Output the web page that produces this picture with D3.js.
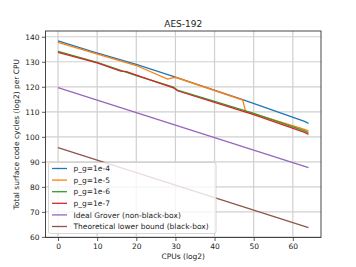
<!DOCTYPE html>
<html>
<head>
<meta charset="utf-8">
<script src="https://cdn.jsdelivr.net/npm/d3@7"></script>
<style>
  body { margin: 0; background: #fff; }
  text { font-family: "DejaVu Sans", sans-serif; fill: #222; }
</style>
</head>
<body>
<svg id="chart" width="356" height="267"></svg>
<script>
// CPUs (log2) and total cycles (log2) per CPU
const x1e4 = [0, 9, 20, 30, 47, 63, 64];
const y1e4 = [138.4, 134.0, 129.0, 123.9, 115.0, 106.2, 105.4];
const x1e5 = [0, 9, 20, 28, 29, 30, 47.2, 47.9, 63, 64];
const y1e5 = [137.8, 133.6, 128.5, 123.1, 123.5, 123.8, 114.7, 110.3, 103.0, 102.4];
const x1e6 = [0, 10, 20, 29.5, 30.5, 40, 50, 63, 64];
const y1e6 = [134.2, 129.8, 124.5, 119.9, 118.7, 114.2, 109.4, 102.4, 101.7];
const x1e7 = [0, 10, 16, 17.5, 25, 29.5, 30.5, 40, 50, 63, 64];
const y1e7 = [133.8, 129.6, 126.3, 126.1, 122.0, 119.6, 118.4, 113.8, 108.9, 101.8, 101.0];
const xGrover = [0, 64];
const yGrover = [119.7, 87.7];
const xLower = [0, 64];
const yLower = [95.7, 63.7];

const labels = ["p_g=1e-4", "p_g=1e-5", "p_g=1e-6", "p_g=1e-7",
  "Ideal Grover (non-black-box)", "Theoretical lower bound (black-box)"];
const colors = ["#1f77b4", "#ff7f0e", "#2ca02c", "#d62728", "#9467bd", "#8c564b"];
const xTicks = [0, 10, 20, 30, 40, 50, 60];
const yTicks = [60, 70, 80, 90, 100, 110, 120, 130, 140];

const series = [
  [x1e4, y1e4], [x1e5, y1e5], [x1e6, y1e6], [x1e7, y1e7],
  [xGrover, yGrover], [xLower, yLower]
].map(([xs, ys], i) => ({ label: labels[i], color: colors[i], pts: xs.map((x, j) => [x, ys[j]]) }));

const plotL = 45.5, plotR = 321, plotT = 31, plotB = 237.5;
const x = d3.scaleLinear().domain([-3.2, 67.2]).range([plotL, plotR]);
const y = d3.scaleLinear().domain([59.75, 142.3]).range([plotB, plotT]);

const svg = d3.select("#chart");

// grid
svg.append("g")
  .selectAll("line")
  .data(xTicks)
  .enter()
  .append("line")
  .attr("x1", (d) => x(d))
  .attr("x2", (d) => x(d))
  .attr("y1", plotT)
  .attr("y2", plotB)
  .attr("stroke", "#d0d0d0")
  .attr("stroke-width", 1.2);

svg.append("g")
  .selectAll("line")
  .data(yTicks)
  .enter()
  .append("line")
  .attr("x1", plotL)
  .attr("x2", plotR)
  .attr("y1", (d) => y(d))
  .attr("y2", (d) => y(d))
  .attr("stroke", "#d0d0d0")
  .attr("stroke-width", 1.2);

// lines
const line = d3.line().x((d) => x(d[0])).y((d) => y(d[1]));
svg.append("g")
  .selectAll("path")
  .data(series)
  .enter()
  .append("path")
  .attr("d", (d) => line(d.pts))
  .attr("fill", "none")
  .attr("stroke", (d) => d.color)
  .attr("stroke-width", 1.3);

// axes
const xAxis = svg.append("g")
  .attr("transform", `translate(0,${plotB})`)
  .call(d3.axisBottom(x).tickValues(xTicks).tickSize(3.5).tickPadding(2.5));
const yAxis = svg.append("g")
  .attr("transform", `translate(${plotL},0)`)
  .call(d3.axisLeft(y).tickValues(yTicks).tickSize(3.5).tickPadding(2.5));
[xAxis, yAxis].forEach((g) => {
  g.select(".domain").remove();
  g.selectAll("text").style("font-size", "7.5px").attr("fill", "#222");
  g.selectAll("line").attr("stroke", "#333").attr("stroke-width", 0.8);
});

// frame
svg.append("rect")
  .attr("x", plotL)
  .attr("y", plotT)
  .attr("width", plotR - plotL)
  .attr("height", plotB - plotT)
  .attr("fill", "none")
  .attr("stroke", "#333")
  .attr("stroke-width", 0.9);

// titles
svg.append("text")
  .attr("x", (plotL + plotR) / 2)
  .attr("y", 27)
  .attr("text-anchor", "middle")
  .style("font-size", "9px")
  .text("AES-192");

svg.append("text")
  .attr("x", (plotL + plotR) / 2)
  .attr("y", 259)
  .attr("text-anchor", "middle")
  .style("font-size", "7.5px")
  .text("CPUs (log2)");

svg.append("text")
  .attr("transform", `translate(19,${(plotT + plotB) / 2}) rotate(-90)`)
  .attr("text-anchor", "middle")
  .style("font-size", "7.5px")
  .text("Total surface code cycles (log2) per CPU");

// legend
const legend = svg.append("g").attr("transform", "translate(48.5,162.5)");
legend.append("rect")
  .attr("width", 167.5)
  .attr("height", 71)
  .attr("rx", 2)
  .attr("fill", "#fff")
  .attr("fill-opacity", 0.8)
  .attr("stroke", "#ccc")
  .attr("stroke-width", 0.8);

const rows = legend.selectAll("g")
  .data(series)
  .enter()
  .append("g")
  .attr("transform", (_, i) => `translate(0,${6 + i * 11.6})`);
rows.append("line")
  .attr("x1", 3.5)
  .attr("x2", 18.5)
  .attr("stroke", (d) => d.color)
  .attr("stroke-width", 1.3);
rows.append("text")
  .attr("x", 25)
  .attr("dy", "0.35em")
  .style("font-size", "7.5px")
  .text((d) => d.label);
</script>
</body>
</html>
